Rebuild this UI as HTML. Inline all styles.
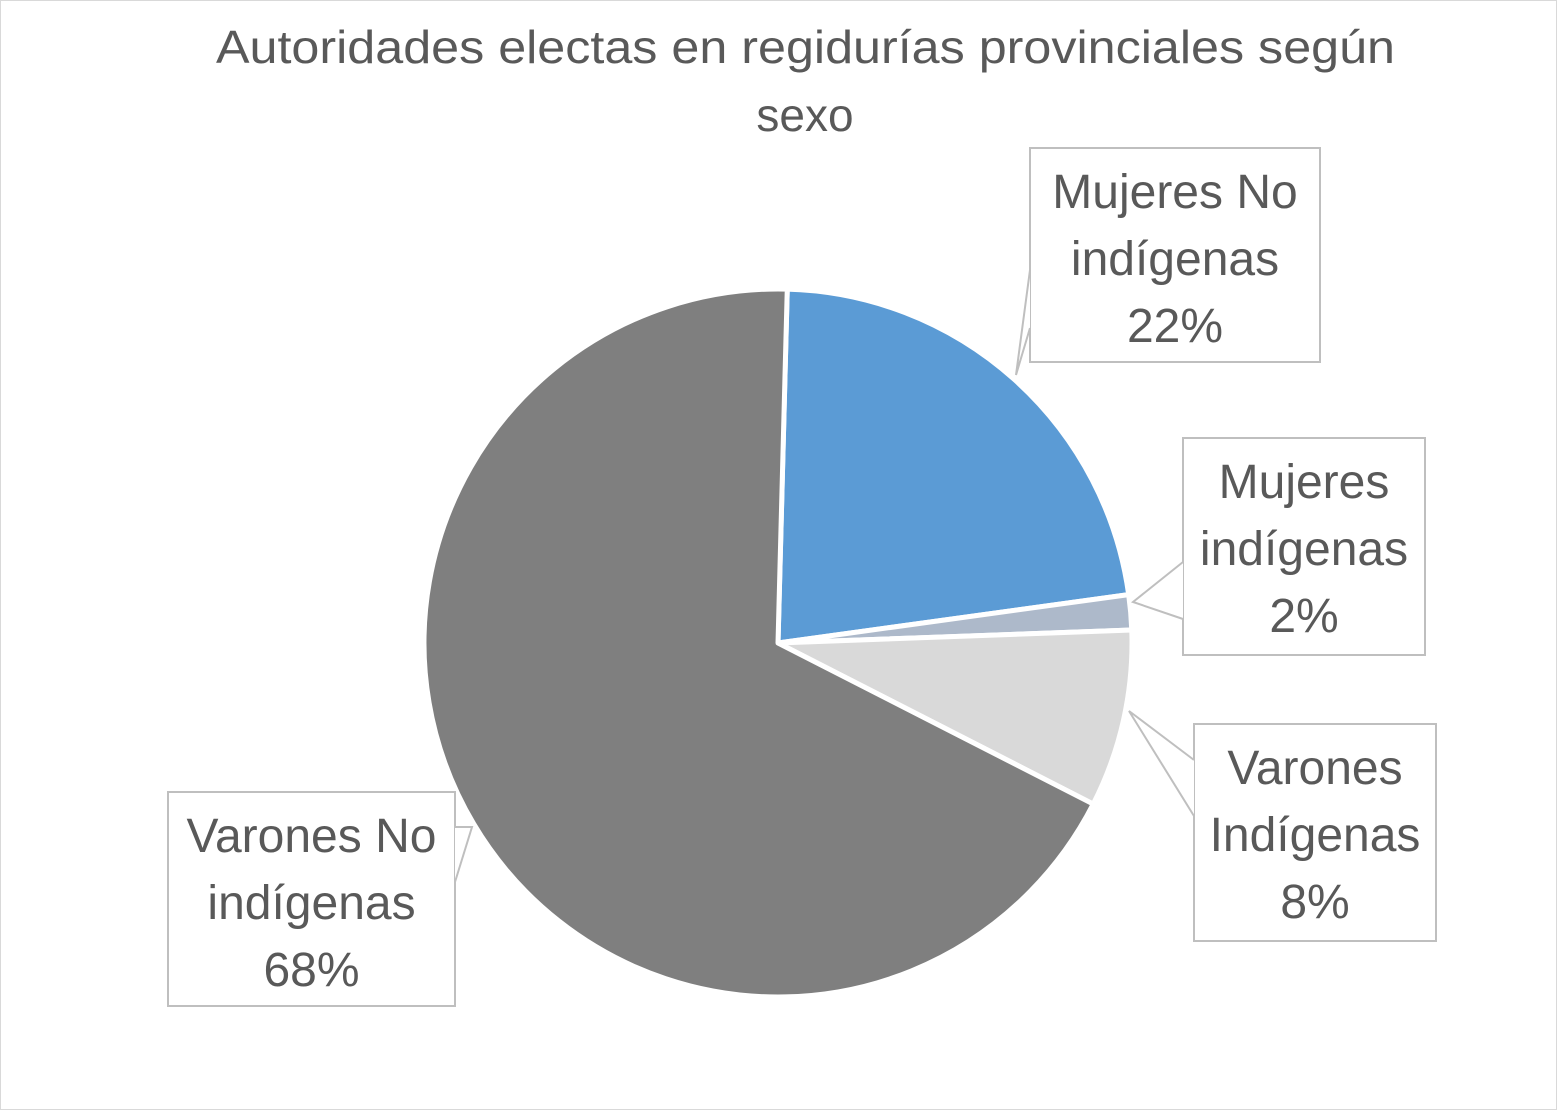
<!DOCTYPE html>
<html><head><meta charset="utf-8"><style>
html,body{margin:0;padding:0;background:#fff}
svg{display:block}
text{font-family:"Liberation Sans","DejaVu Sans",sans-serif;fill:#595959}
</style></head><body>
<svg id="chart" width="1557" height="1110" viewBox="0 0 1557 1110" xmlns="http://www.w3.org/2000/svg">
<rect x="0.5" y="0.5" width="1556" height="1109" fill="#fff" stroke="#d9d9d9"/>
<text x="216" y="63" font-size="46" textLength="1179" lengthAdjust="spacingAndGlyphs">Autoridades electas en regidurías provinciales  según</text>
<text x="805" y="131" font-size="46" text-anchor="middle">sexo</text>
<g id="slices"></g>
<g id="labels"></g>
</svg>
<script>
const categories = ["Mujeres No indígenas", "Mujeres indígenas", "Varones Indígenas", "Varones No indígenas"];
const values = [22.4, 1.6, 8.1, 67.9];
const labelLines = [["Mujeres No","indígenas","22%"],["Mujeres","indígenas","2%"],["Varones","Indígenas","8%"],["Varones No","indígenas","68%"]];
const colors = ["#5B9BD5","#ADB9CA","#D9D9D9","#7F7F7F"];

const NS="http://www.w3.org/2000/svg";
const cx=778, cy=643, r=354, startDeg=1.5;
const total=values.reduce((a,b)=>a+b,0);
function angleOf(v){return (startDeg + v/total*360)*Math.PI/180;}
function pt(a,rad){return [cx+rad*Math.sin(a), cy-rad*Math.cos(a)];}
const g=document.getElementById('slices');
let acc=0;
values.forEach((v,i)=>{
  const a0=angleOf(acc), a1=angleOf(acc+v); acc+=v;
  const p0=pt(a0,r), p1=pt(a1,r);
  const large=(a1-a0)>Math.PI?1:0;
  const p=document.createElementNS(NS,'path');
  p.setAttribute('d',`M${cx},${cy} L${p0[0]},${p0[1]} A${r},${r} 0 ${large} 1 ${p1[0]},${p1[1]} Z`);
  p.setAttribute('fill',colors[i]);
  p.setAttribute('stroke','#fff');
  p.setAttribute('stroke-width','5');
  p.setAttribute('stroke-linejoin','round');
  
  
  g.appendChild(p);
});
const boxes=[{x:1030,y:148,w:290,h:214,leader:"1030,270 1016,375 1030,328"},
             {x:1183,y:438,w:242,h:217,leader:"1183,562 1133,602 1183,619"},
             {x:1194,y:724,w:242,h:217,leader:"1194,760 1129,711 1194,816"},
             {x:168,y:792,w:287,h:214,leader:"455,827 472,827 455,882"}];
const lg=document.getElementById('labels');
boxes.forEach((b,i)=>{
  const grp=document.createElementNS(NS,'g');
  
  
  const rc=document.createElementNS(NS,'rect');
  rc.setAttribute('x',b.x);rc.setAttribute('y',b.y);rc.setAttribute('width',b.w);rc.setAttribute('height',b.h);
  rc.setAttribute('fill','#fff');rc.setAttribute('stroke','#bfbfbf');rc.setAttribute('stroke-width','2');
  
  
  grp.appendChild(rc);
  const ld=document.createElementNS(NS,'polyline');
  ld.setAttribute('points',b.leader);ld.setAttribute('fill','#fff');ld.setAttribute('stroke','#bfbfbf');ld.setAttribute('stroke-width','2');
  
  
  grp.appendChild(ld);
  labelLines[i].forEach((s,j)=>{
    const t=document.createElementNS(NS,'text');
    t.setAttribute('x',b.x+b.w/2);t.setAttribute('y',b.y+60+j*67);
    t.setAttribute('font-size','48');t.setAttribute('text-anchor','middle');
    t.textContent=s;
    
    
    grp.appendChild(t);
  });
  lg.appendChild(grp);
});
</script>
</body></html>
